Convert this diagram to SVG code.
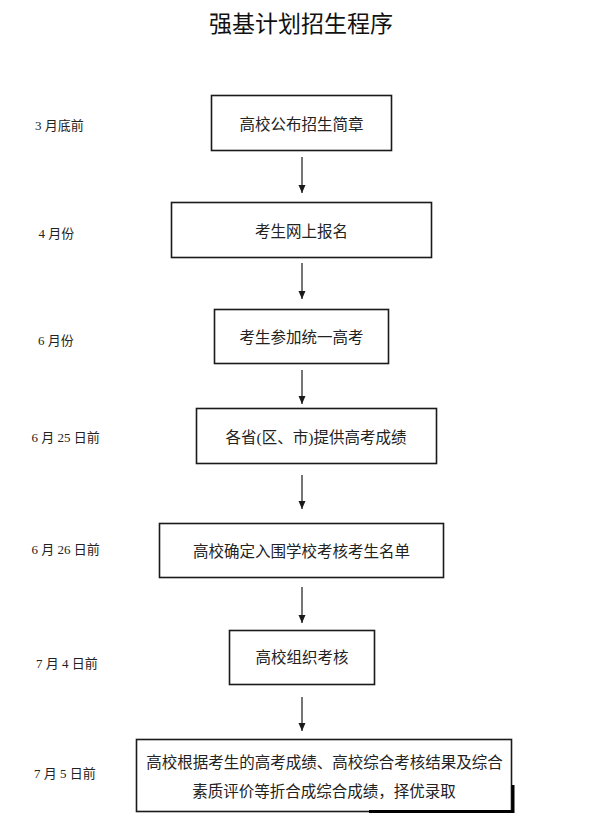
<svg xmlns="http://www.w3.org/2000/svg" width="600" height="837" viewBox="0 0 600 837">
<style>
.title{font-family:"Noto Sans CJK SC","Liberation Sans",sans-serif;font-size:23px;fill:#111;text-anchor:middle}
.box{fill:#fff;stroke:#1a1a1a;stroke-width:1.6}
.txt{font-family:"Liberation Serif","Noto Sans CJK SC",serif;font-size:15.5px;fill:#222;text-anchor:middle;dominant-baseline:central}
.lbl{font-family:"Liberation Serif","Noto Sans CJK SC",serif;font-size:13px;fill:#222;dominant-baseline:central}
.arr{stroke:#1a1a1a;stroke-width:1.2;fill:none;marker-end:url(#ah)}
</style>
<defs>
<marker id="ah" markerWidth="10" markerHeight="10" refX="9" refY="5" orient="auto" markerUnits="userSpaceOnUse">
<path d="M1,1.5 L9,5 L1,8.5 Z" fill="#1a1a1a"/>
</marker>
</defs>
<rect width="600" height="837" fill="#fff"/>
<text class="title" x="301" y="32">强基计划招生程序</text>

<g id="n1"><rect class="box" x="211.5" y="95.5" width="180" height="55"/><text class="txt" x="301.5" y="124">高校公布招生简章</text></g>
<g id="n2"><rect class="box" x="171.5" y="202.5" width="260" height="55"/><text class="txt" x="301.5" y="231">考生网上报名</text></g>
<g id="n3"><rect class="box" x="214.5" y="309.5" width="174" height="54"/><text class="txt" x="301.5" y="337">考生参加统一高考</text></g>
<g id="n4"><rect class="box" x="196.5" y="408.5" width="240" height="55"/><text class="txt" x="316" y="437">各省(区、市)提供高考成绩</text></g>
<g id="n5"><rect class="box" x="159.5" y="523.5" width="284" height="54"/><text class="txt" x="301.5" y="551">高校确定入围学校考核考生名单</text></g>
<g id="n6"><rect class="box" x="229.5" y="630.5" width="145" height="54"/><text class="txt" x="302" y="657">高校组织考核</text></g>
<g id="n7"><rect class="box" x="136.5" y="739.5" width="375" height="72"/><text class="txt" x="324.5" y="762">高校根据考生的高考成绩、高校综合考核结果及综合</text><text class="txt" x="324" y="791">素质评价等折合成综合成绩，择优录取</text><path d="M369,811.5 H513 V785" fill="none" stroke="#000" stroke-width="3"/></g>

<g id="labels">
<text class="lbl" x="35" y="125">3 月底前</text>
<text class="lbl" x="38.5" y="233">4 月份</text>
<text class="lbl" x="38" y="340">6 月份</text>
<text class="lbl" x="31.5" y="437">6 月 25 日前</text>
<text class="lbl" x="31.5" y="549">6 月 26 日前</text>
<text class="lbl" x="36" y="663">7 月 4 日前</text>
<text class="lbl" x="34" y="773">7 月 5 日前</text>
</g>

<g id="connectors">
<line class="arr" x1="302" y1="157" x2="302" y2="193"/>
<line class="arr" x1="302" y1="263" x2="302" y2="299"/>
<line class="arr" x1="302" y1="370" x2="302" y2="404"/>
<line class="arr" x1="302" y1="475" x2="302" y2="509"/>
<line class="arr" x1="302" y1="587" x2="302" y2="623"/>
<line class="arr" x1="302" y1="697" x2="302" y2="731"/>
</g>
</svg>
